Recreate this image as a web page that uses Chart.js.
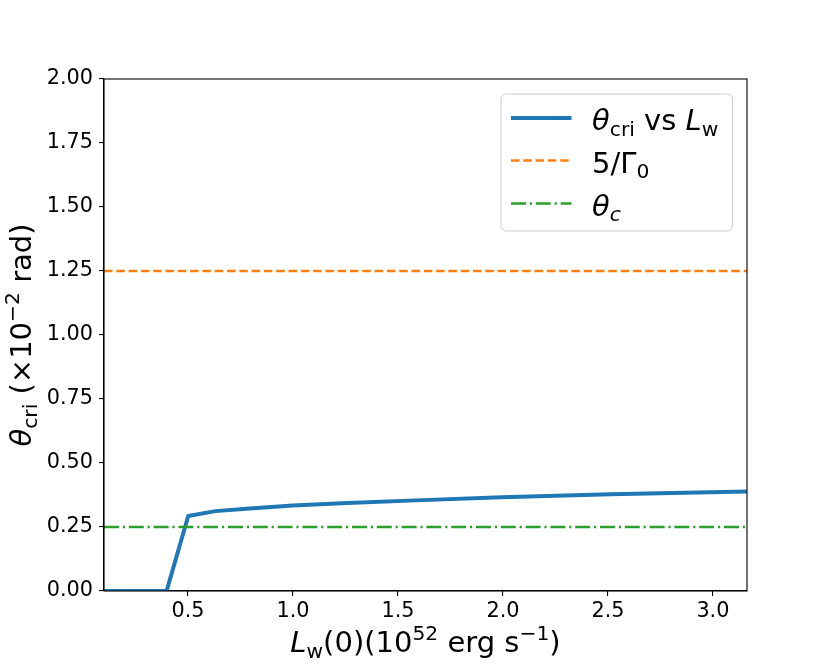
<!DOCTYPE html>
<html>
<head>
<meta charset="utf-8">
<script src="https://cdn.jsdelivr.net/npm/chart.js@4/dist/chart.umd.min.js"></script>
<style>
html,body{margin:0;padding:0;background:#fff;}
#wrap{width:830px;height:664px;}
</style>
</head>
<body>
<div id="wrap"><canvas id="c" width="830" height="664"></canvas></div>
<script>
// ---- data ----
const lwValues = [0.1, 0.1259, 0.1585, 0.1995, 0.2512, 0.3162, 0.3981, 0.5012, 0.6310, 0.7943, 1.0, 1.2589, 1.5849, 1.9953, 2.5119, 3.1623];
const thetaCri = [0, 0, 0, 0, 0, 0, 0, 0.293, 0.312, 0.322, 0.334, 0.344, 0.354, 0.366, 0.378, 0.389];
const fiveOverGamma = 1.25;
const thetaC = 0.25;
const xRange = [0.1, 3.1623];
const xTicks = [0.5, 1.0, 1.5, 2.0, 2.5, 3.0];
const yTicks = [0, 0.25, 0.5, 0.75, 1.0, 1.25, 1.5, 1.75, 2.0];

const FONT = '"DejaVu Sans", "Liberation Sans", sans-serif';

const legendItems = [
  {color:'#1f77b4', width:4, dash:[], parts:[{t:'θ',it:1},{t:'cri',s:-1},{t:' vs '},{t:'L',it:1},{t:'w',s:-1}]},
  {color:'#ff7f0e', width:2.5, dash:[8.5,3.8], parts:[{t:'5/Γ'},{t:'0',s:-1}]},
  {color:'#2ca02c', width:2.5, dash:[15,3.8,2.2,3.8], parts:[{t:'θ',it:1},{t:'c',it:1,s:-1}]}
];
const xTitleParts = [{t:'L',it:1},{t:'w',s:-1},{t:'(0)(10'},{t:'52',s:1},{t:' erg s'},{t:'−1',s:1},{t:')'}];
const yTitleParts = [{t:'θ',it:1},{t:'cri',s:-1},{t:' (×10'},{t:'−2',s:1},{t:' rad)'}];

function partFont(p, size){
  const fs = p.s ? size*0.7 : size;
  return (p.it ? 'italic ' : '') + fs.toFixed(2) + 'px ' + FONT;
}
function richWidth(ctx, parts, size){
  let w = 0;
  for (const p of parts){ ctx.font = partFont(p,size); w += ctx.measureText(p.t).width; }
  return w;
}
function drawRich(ctx, parts, size, x, y, align){
  const w = richWidth(ctx, parts, size);
  let cx = align === 'center' ? x - w/2 : x;
  ctx.textBaseline = 'alphabetic';
  ctx.textAlign = 'left';
  for (const p of parts){
    ctx.font = partFont(p,size);
    let dy = 0;
    if (p.s === -1) dy = 0.2*size;
    if (p.s === 1) dy = -0.42*size;
    ctx.fillText(p.t, cx, y + dy);
    cx += ctx.measureText(p.t).width;
  }
}

const decorPlugin = {
  id:'decor',
  afterDraw(chart){
    const ctx = chart.ctx, a = chart.chartArea;
    ctx.save();
    // frame
    ctx.strokeStyle = '#000'; ctx.lineWidth = 1.1; ctx.setLineDash([]);
    ctx.strokeRect(a.left, a.top, a.right-a.left, a.bottom-a.top);
    // axis titles
    ctx.fillStyle = '#000';
    drawRich(ctx, xTitleParts, 29, (a.left+a.right)/2, 652, 'center');
    ctx.save();
    ctx.translate(31, (a.top+a.bottom)/2);
    ctx.rotate(-Math.PI/2);
    drawRich(ctx, yTitleParts, 29, 0, 0, 'center');
    ctx.restore();
    // legend
    const lx = 501, ly = 94, lw = 231.5, lh = 137, r = 5;
    ctx.beginPath();
    ctx.moveTo(lx+r, ly); ctx.lineTo(lx+lw-r, ly); ctx.arcTo(lx+lw, ly, lx+lw, ly+r, r);
    ctx.lineTo(lx+lw, ly+lh-r); ctx.arcTo(lx+lw, ly+lh, lx+lw-r, ly+lh, r);
    ctx.lineTo(lx+r, ly+lh); ctx.arcTo(lx, ly+lh, lx, ly+lh-r, r);
    ctx.lineTo(lx, ly+r); ctx.arcTo(lx, ly, lx+r, ly, r);
    ctx.closePath();
    ctx.fillStyle = 'rgba(255,255,255,0.8)'; ctx.fill();
    ctx.strokeStyle = '#cccccc'; ctx.lineWidth = 1; ctx.stroke();
    const rowsY = [118, 160.5, 203.5];
    legendItems.forEach((it,i)=>{
      ctx.beginPath();
      ctx.strokeStyle = it.color; ctx.lineWidth = it.width; ctx.setLineDash(it.dash);
      ctx.moveTo(511, rowsY[i]); ctx.lineTo(571.5, rowsY[i]); ctx.stroke();
      ctx.setLineDash([]);
      ctx.fillStyle = '#000';
      drawRich(ctx, it.parts, 29, 592, rowsY[i]+12, 'left');
    });
    ctx.restore();
  }
};

const mainData = lwValues.map((x,i)=>({x:x, y:thetaCri[i]}));
const gammaData = xRange.map(x=>({x:x, y:fiveOverGamma}));
const thetaCData = xRange.map(x=>({x:x, y:thetaC}));

new Chart(document.getElementById('c'), {
  type:'line',
  data:{
    datasets:[
      {label:'θcri vs Lw', data:mainData, borderColor:'#1f77b4', borderWidth:4, pointRadius:0, fill:false, tension:0, clip:0, order:2, borderCapStyle:'butt', borderJoinStyle:'round'},
      {label:'5/Γ0', data:gammaData, borderColor:'#ff7f0e', borderWidth:2.5, borderDash:[8.5,3.8], pointRadius:0, fill:false, clip:0, order:1},
      {label:'θc', data:thetaCData, borderColor:'#2ca02c', borderWidth:2.5, borderDash:[15,3.8,2.2,3.8], pointRadius:0, fill:false, clip:0, order:0}
    ]
  },
  options:{
    responsive:false,
    devicePixelRatio:1,
    animation:false,
    layout:{padding:{left:0, top:79, right:83, bottom:0}},
    plugins:{legend:{display:false}, tooltip:{enabled:false}},
    scales:{
      x:{
        type:'linear', min:xRange[0], max:xRange[1],
        afterFit(s){ s.height = 73; },
        afterBuildTicks(s){ s.ticks = xTicks.map(v=>({value:v})); },
        ticks:{ color:'#000', font:{family:FONT, size:20.8}, padding:3, maxRotation:0, autoSkip:false,
          callback:(v)=>Number(v).toFixed(1) },
        grid:{ display:true, drawOnChartArea:false, drawTicks:true, tickLength:5, tickColor:'#000', lineWidth:1.1 },
        border:{ display:true, color:'#000', width:1.1 }
      },
      y:{
        type:'linear', min:0, max:2,
        afterFit(s){ s.width = 104; },
        afterBuildTicks(s){ s.ticks = yTicks.map(v=>({value:v})); },
        ticks:{ color:'#000', font:{family:FONT, size:20.8}, padding:6, autoSkip:false,
          callback:(v)=>Number(v).toFixed(2) },
        grid:{ display:true, drawOnChartArea:false, drawTicks:true, tickLength:5, tickColor:'#000', lineWidth:1.1 },
        border:{ display:true, color:'#000', width:1.1 }
      }
    }
  },
  plugins:[decorPlugin]
});
</script>
</body>
</html>
